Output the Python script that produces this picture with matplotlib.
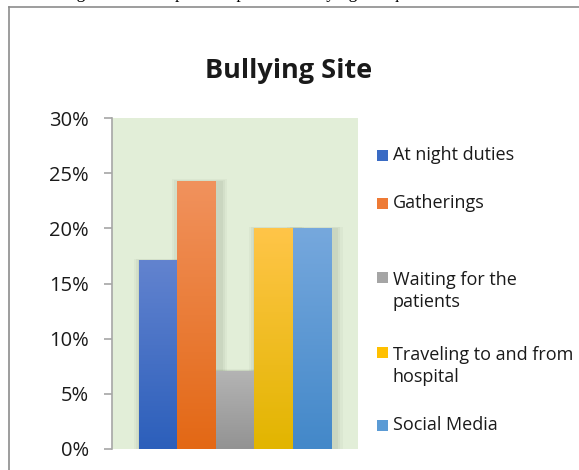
import numpy as np
import matplotlib.pyplot as plt
from matplotlib.patches import Rectangle
from matplotlib.lines import Line2D
from matplotlib.colors import LinearSegmentedColormap

sites = ["At night duties", "Gatherings", "Waiting for the\npatients",
         "Traveling to and from\nhospital", "Social Media"]
values = [17.1, 24.3, 7.1, 20.0, 20.0]
yticks = [0, 5, 10, 15, 20, 25, 30]

# (top, bottom) gradient colours per bar
grads = [("#6283CF", "#2C5FBB"), ("#F1925D", "#E36815"), ("#B4B4B4", "#939393"),
         ("#FFC548", "#E2B500"), ("#76A8DD", "#4388C9")]
legend_cols = ["#3A6BC4", "#EE7A35", "#A5A5A5", "#FFC000", "#5B9BD5"]

W, H = 579, 470
fig = plt.figure(figsize=(W / 100, H / 100), dpi=100)
fig.patch.set_facecolor("white")

def fx(px):
    return px / W

def fy(py):
    return 1 - py / H

ax = fig.add_axes([fx(111.7), fy(449), fx(358) - fx(111.7), fy(118) - fy(449)])
ax.set_facecolor("#E2EED8")

x = np.arange(len(values))
# soft shadow behind bars
for i, v in enumerate(values):
    for k, a in enumerate([0.05, 0.06, 0.07]):
        pad = 0.22 - k * 0.06
        ax.add_patch(Rectangle((x[i] - 0.5 - pad + 0.08, -0.3), 1 + 2 * pad, v + 0.2 + pad * 1.2,
                               facecolor="#5a6a50", edgecolor="none", alpha=a, zorder=1))

bars = ax.bar(x, values, width=1.0, color=legend_cols, zorder=2)
for b, (top, bot) in zip(bars, grads):
    cmap = LinearSegmentedColormap.from_list("g", [bot, top])
    grad = np.linspace(0, 1, 100).reshape(-1, 1)
    x0, y0 = b.get_x(), b.get_y()
    im = ax.imshow(grad, cmap=cmap, origin="lower", aspect="auto",
                   extent=[x0, x0 + b.get_width(), y0, y0 + b.get_height()], zorder=3)
    im.set_clip_path(b)
ax.set_xlim(-1.21, 5.2)
ax.set_ylim(0, 30)

ax.set_yticks(yticks)
ax.set_yticklabels([f"{t}%" for t in yticks])
ax.set_xticks([])
for s in ["top", "right", "bottom"]:
    ax.spines[s].set_visible(False)
ax.spines["left"].set_color("#A6A6A6")
ax.spines["left"].set_linewidth(1.2)
ax.tick_params(axis="y", length=6, width=1.2, color="#A6A6A6", labelsize=14.5,
               pad=10.5, labelcolor="#1a1a1a")
for lab in ax.get_yticklabels():
    lab.set_fontfamily("Open Sans")

fig.text(fx(289), fy(71), "Bullying Site", ha="center", va="center",
         fontsize=19.5, fontweight="bold", fontfamily="Open Sans", color="#1a1a1a")

# legend, placed like Excel does
leg_y = [155, 203, 277, 352, 425]
line_h = 25
for name, col, ly in zip(sites, legend_cols, leg_y):
    fig.patches.append(Rectangle((fx(377), fy(ly + 5.5)), fx(11), 11 / H,
                                 facecolor=col, edgecolor="none",
                                 transform=fig.transFigure, figure=fig))
    n_extra = name.count("\n")
    fig.text(fx(393), fy(ly + 5 + line_h * n_extra), name, ha="left", va="baseline",
             fontsize=13, fontfamily="Open Sans", color="#1a1a1a",
             linespacing=1.3, transform=fig.transFigure)

# clipped caption above the frame and the frame itself
fig.text(fx(62), fy(-2.2), "Figure 5: Participants response to bullying site question",
         ha="left", va="baseline", fontsize=12.5, fontfamily="Liberation Serif")
fig.lines.append(Line2D([fx(9), 1], [fy(7), fy(7)], color="#8c8c8c", lw=1.2,
                        transform=fig.transFigure))
fig.lines.append(Line2D([fx(9), fx(9)], [fy(7), 0], color="#8c8c8c", lw=1.2,
                        transform=fig.transFigure))

fig.savefig("out.png", dpi=100)
